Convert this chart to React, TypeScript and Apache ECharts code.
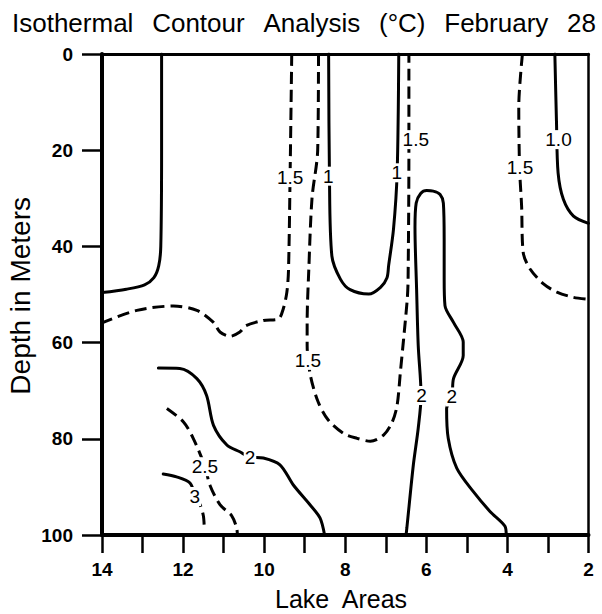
import React, { useEffect, useRef } from "react";
import * as echarts from "echarts";

// Axis ticks / labels
const xTickLabels = [2, 4, 6, 8, 10, 12, 14];
const yTickLabels = [0, 20, 40, 60, 80, 100];

// Title words
const titleWords = ["Isothermal", "Contour", "Analysis", "(°C)", "February", "28"];

// Contours: [lakeArea, depth]
const c1Left: number[][] = [[12.53, 0], [12.53, 20], [12.55, 40], [12.6, 44], [12.72, 46.5], [12.95, 48], [13.4, 48.9], [14, 49.6]];
const c15Left: number[][] = [[9.32, 0], [9.36, 25], [9.4, 45], [9.44, 49.5], [9.53, 53], [9.65, 55.1], [10.02, 55.4], [10.45, 56.5], [10.6, 57.8], [10.84, 58.7], [11.09, 57.8], [11.25, 55.8], [11.66, 53.3], [12.24, 52.4], [13.14, 53.3], [14, 55.9]];
const c15Mid: number[][] = [[8.66, 0], [8.68, 20], [8.82, 30], [8.9, 45], [8.94, 55.8], [8.94, 60.6], [8.86, 66.8], [8.67, 72.3], [8.42, 76.1], [8.04, 78.9], [7.71, 79.9], [7.38, 80.5], [7.05, 79.2], [6.84, 76.5], [6.72, 73], [6.64, 66.1], [6.56, 59.2], [6.47, 50.9], [6.45, 46.8], [6.43, 20], [6.43, 0]];
const c1Mid: number[][] = [[8.41, 0], [8.39, 25], [8.33, 42], [8.12, 46.8], [7.88, 49], [7.42, 49.9], [7.13, 48.5], [6.97, 46.5], [6.93, 44], [6.81, 36.4], [6.72, 24.7], [6.68, 0]];
const c2Mid: number[][] = [[6.5, 100], [6.48, 98.5], [6.32, 85.4], [6.2, 77.8], [6.13, 71], [6.2, 60.6], [6.24, 48.9], [6.28, 36], [6.25, 31], [6.14, 29], [5.99, 28.4], [5.83, 28.5], [5.66, 29.2], [5.58, 31], [5.56, 38.5], [5.56, 46.8], [5.54, 52.3], [5.33, 55.8], [5.09, 59.9], [5.09, 62.7], [5.33, 67.5], [5.37, 71.3], [5.5, 73.7], [5.46, 79.9], [5.25, 86.1], [4.84, 91], [4.43, 95.1], [4.06, 98.2], [4.03, 100]];
const c15Right: number[][] = [[3.63, 0], [3.72, 11], [3.7, 23.7], [3.65, 31.6], [3.61, 41.3], [3.44, 44.7], [3.11, 47.8], [2.78, 49.5], [2.37, 50.6], [2, 51]];
const c10Right: number[][] = [[2.83, 0], [2.79, 14], [2.75, 24.7], [2.62, 30.2], [2.37, 33.7], [2, 35.2]];
const c2Low: number[][] = [[12.61, 65.3], [12.08, 65.4], [11.66, 67.5], [11.42, 71], [11.25, 77.2], [10.92, 81.3], [10.6, 82.7], [10.35, 83.8], [10.02, 84], [9.61, 85.4], [9.28, 89.6], [8.87, 93.7], [8.62, 96.5], [8.51, 100]];
const c25Low: number[][] = [[12.4, 73.7], [11.99, 76.5], [11.75, 79.9], [11.46, 85.8], [11.34, 89.6], [11.09, 93.7], [10.8, 96], [10.68, 98.5], [10.66, 100]];
const c3Upper: number[][] = [[12.49, 87.3], [12.16, 87.9], [11.83, 89.2], [11.71, 92]];
const c3Lower: number[][] = [[11.71, 92], [11.58, 93.7], [11.5, 96], [11.48, 98]];

// Contour labels: [lakeArea, depth, text]
const contourLabels: (number | string)[][] = [
  [9.36, 25.7, "1.5"], [8.42, 25.4, "1"], [6.73, 24.7, "1"], [6.26, 17.8, "1.5"],
  [3.69, 23.7, "1.5"], [2.74, 17.8, "1.0"], [8.92, 63.7, "1.5"], [6.12, 71, "2"],
  [5.37, 71.3, "2"], [10.35, 83.8, "2"], [11.46, 85.8, "2.5"], [11.71, 92, "3"],
];

const FONT = "'Liberation Sans', Arial, Helvetica, sans-serif";

export default function App() {
  const ref = useRef<HTMLDivElement>(null);
  useEffect(() => {
    if (!ref.current) return;
    const chart = echarts.init(ref.current, undefined, { renderer: "svg" });
    const solid = (data: number[][]) => ({
      type: "line", data, smooth: 0.3, symbol: "none", z: 3,
      lineStyle: { color: "#000", width: 3, type: "solid", cap: "round" },
    });
    const dashed = (data: number[][]) => ({
      type: "line", data, smooth: 0.3, symbol: "none", z: 3,
      lineStyle: { color: "#000", width: 3, type: [12, 6] },
    });
    // title word layout
    const fs = 26;
    const widths = [4.668, 3.557, 3.723, 1.788, 4.001, 1.112].map((w) => w * fs);
    const total = widths.reduce((a, b) => a + b, 0);
    const gap = (584 - total) / (titleWords.length - 1);
    let cx = 12;
    const titleGraphics = titleWords.map((w, i) => {
      const g = { type: "text", left: cx, top: 10, style: { text: w, font: `${fs}px ${FONT}`, fill: "#000" } };
      cx += widths[i] + gap;
      return g;
    });
    const baseGraphics = [
      ...titleGraphics,
      {
        type: "text", left: 6, top: 197, rotation: Math.PI / 2,
        style: { text: "Depth in Meters", font: `28px ${FONT}`, fill: "#000" },
      },
      {
        type: "text", left: 275, top: 586,
        style: { text: "Lake  Areas", font: `25px ${FONT}`, fill: "#000" },
      },
    ];
    chart.setOption({
      animation: false,
      backgroundColor: "#fff",
      grid: { left: 102, right: 13.5, top: 54, bottom: 79, containLabel: false },
      xAxis: [
        {
          type: "value", min: 2, max: 14, interval: 1, inverse: true,
          axisLine: { onZero: false, lineStyle: { color: "#000", width: 4 } },
          axisTick: { show: true, length: 18, lineStyle: { color: "#000", width: 2.5 } },
          axisLabel: {
            margin: 25, color: "#000", fontSize: 19, fontWeight: "bold", fontFamily: FONT,
            formatter: (v: number) => (xTickLabels.includes(v) ? String(v) : ""),
          },
          splitLine: { show: false },
        },
        {
          type: "value", min: 2, max: 14, inverse: true, position: "top",
          axisLine: { onZero: false, lineStyle: { color: "#000", width: 3 } },
          axisTick: { show: false }, axisLabel: { show: false }, splitLine: { show: false },
        },
      ],
      yAxis: [
        {
          type: "value", min: 0, max: 100, interval: 20, inverse: true,
          axisLine: { onZero: false, lineStyle: { color: "#000", width: 4 } },
          axisTick: { show: true, length: 20, lineStyle: { color: "#000", width: 2.5 } },
          axisLabel: {
            margin: 29, color: "#000", fontSize: 19, fontWeight: "bold", fontFamily: FONT,
            formatter: (v: number) => (yTickLabels.includes(v) ? String(v) : ""),
          },
          splitLine: { show: false },
        },
        {
          type: "value", min: 0, max: 100, inverse: true, position: "right",
          axisLine: { onZero: false, lineStyle: { color: "#000", width: 2.5 } },
          axisTick: { show: false }, axisLabel: { show: false }, splitLine: { show: false },
        },
      ],
      graphic: baseGraphics,
      series: [
        solid(c1Left), dashed(c15Left), dashed(c15Mid), solid(c1Mid), solid(c2Mid),
        dashed(c15Right), solid(c10Right), solid(c2Low), dashed(c25Low),
        solid(c3Upper), dashed(c3Lower),
      ],
    });
    // contour labels placed through the chart's own scales
    const labelGraphics = contourLabels.map((l) => {
      const [px, py] = chart.convertToPixel({ gridIndex: 0 }, [l[0] as number, l[1] as number]) as number[];
      return {
        type: "text", x: px, y: py, z: 100,
        style: {
          text: String(l[2]), font: `19px ${FONT}`, fill: "#000",
          align: "center", verticalAlign: "middle",
          backgroundColor: "#fff", padding: [0, 1],
        },
      };
    });
    chart.setOption({ graphic: [...baseGraphics, ...labelGraphics] });
    return () => chart.dispose();
  }, []);
  return <div ref={ref} style={{ position: "absolute", left: 0, top: 0, width: 602, height: 614 }} />;
}
